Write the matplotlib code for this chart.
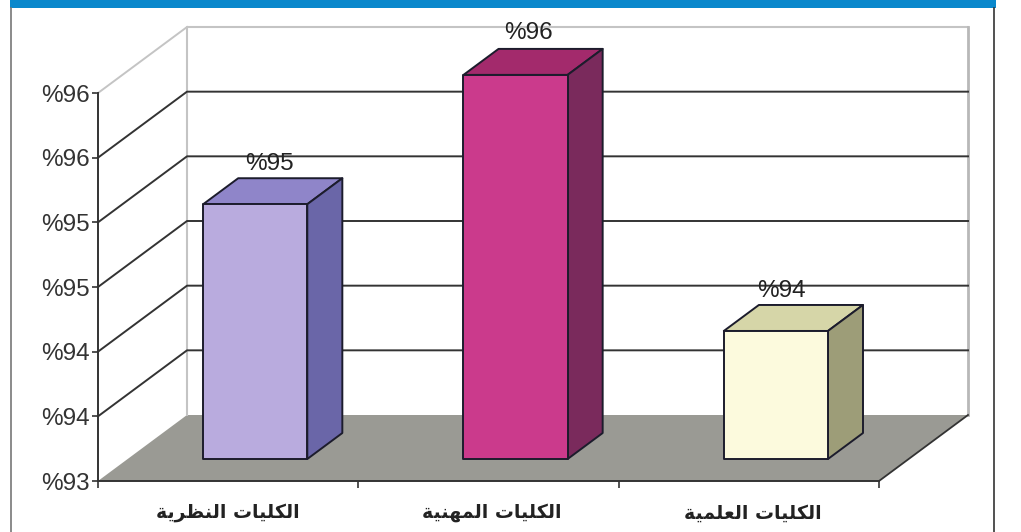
import matplotlib
matplotlib.use('Agg')
import matplotlib.pyplot as plt
from matplotlib.patches import Polygon, Rectangle

categories = ['الكليات النظرية', 'الكليات المهنية', 'الكليات العلمية']
values = [94.97, 95.97, 93.99]
bar_labels = ['%95', '%96', '%94']
y_ticks = [93, 93.5, 94, 94.5, 95, 95.5, 96]
y_tick_labels = ['%93', '%94', '%94', '%95', '%95', '%96', '%96']

front_colors = ['#b9abde', '#cb3a8c', '#fcfadd']
side_colors = ['#6a66a8', '#7a2a5c', '#9d9d78']
top_colors = ['#8f85c9', '#a32a6c', '#d6d6a8']

W, H = 1021, 532
# depth of the fake 3d box, in data units
DX = 89 / 260.33
DV = 66 / 129.33
EDGE = '#1c1c2c'

# contextual forms: isolated, final, initial, medial
FORMS = {
    'ا': '\ufe8d\ufe8e', 'ر': '\ufead\ufeae', 'ة': '\ufe93\ufe94',
    'ل': '\ufedd\ufede\ufedf\ufee0', 'ك': '\ufed9\ufeda\ufedb\ufedc',
    'ي': '\ufef1\ufef2\ufef3\ufef4', 'ت': '\ufe95\ufe96\ufe97\ufe98',
    'ن': '\ufee5\ufee6\ufee7\ufee8', 'ظ': '\ufec5\ufec6\ufec7\ufec8',
    'م': '\ufee1\ufee2\ufee3\ufee4', 'ه': '\ufee9\ufeea\ufeeb\ufeec',
    'ع': '\ufec9\ufeca\ufecb\ufecc',
}


def shape(s):
    # matplotlib does no arabic shaping, so pick the forms and reverse
    out = []
    for i, c in enumerate(s):
        if c not in FORMS:
            out.append(c)
            continue
        prev = s[i - 1] if i > 0 else ' '
        nxt = s[i + 1] if i < len(s) - 1 else ' '
        join_prev = prev in FORMS and len(FORMS[prev]) == 4
        join_next = nxt in FORMS and len(FORMS[c]) == 4
        idx = {(False, False): 0, (True, False): 1, (False, True): 2, (True, True): 3}[(join_prev, join_next)]
        out.append(FORMS[c][idx])
    return ''.join(reversed(out))


def proj(x, v, d):
    return (x + d * DX, v + d * DV)


def poly(ax, pts, **kw):
    kw.setdefault('clip_on', False)
    ax.add_patch(Polygon(pts, closed=True, **kw))


fig = plt.figure(figsize=(W / 100, H / 100), dpi=100, facecolor='white')
plt.rcParams['font.family'] = ['Liberation Sans', 'DejaVu Sans']

# page frame
fig.add_artist(Rectangle((10 / W, 1 - 8 / H), 986 / W, 8 / H, transform=fig.transFigure, fc='#0a88cc', ec='none'))
fig.add_artist(plt.Line2D([10.5 / W, 10.5 / W], [0, 1 - 8 / H], color='#777777', lw=1.2))
fig.add_artist(plt.Line2D([993.5 / W, 993.5 / W], [0, 1 - 8 / H], color='#333333', lw=1.2))

ax = fig.add_axes([98 / W, (H - 481) / H, 781 / W, 388 / H])
ax.set_xlim(0, 3)
ax.set_ylim(93, 96)
ax.patch.set_alpha(0)

# floor and walls
poly(ax, [proj(0, 93, 0), proj(0, 93, 1), proj(3, 93, 1), proj(3, 93, 0)], fc='#9a9a94', ec='none', zorder=1)
xw, yw = proj(0, 93, 1)
xe, ye = proj(3, 96, 1)
ax.plot([xw, xw, xe], [yw, ye, ye], color='#c4c4c4', lw=1.5, clip_on=False, zorder=1.5)
ax.plot([xe, xe], [ye, yw], color='#b8b8b8', lw=2, clip_on=False, zorder=1.5)
ax.plot([3, proj(3, 93, 1)[0]], [93, proj(3, 93, 1)[1]], color='#333333', lw=1.3, clip_on=False, zorder=1.5)

# grid lines on the side and back walls
for v in y_ticks:
    c = '#c4c4c4' if v == 96 else '#333333'
    pts = [proj(0, v, 0), proj(0, v, 1), proj(3, v, 1)]
    if v == 93:
        continue
    if v == 96:
        pts = pts[:2]
    ax.plot([p[0] for p in pts], [p[1] for p in pts], color=c, lw=1.4, clip_on=False, zorder=2)

# bars
d0, d1 = 1 / 3, 0.727
w = 0.4
# label shift from the back edge centre, in pixels
label_shift = [(-21, 0), (-22, 2), (-29, 0)]
for i, v in enumerate(values):
    x0 = i + 0.29
    x1 = x0 + w
    style = dict(ec=EDGE, lw=1.4, joinstyle='round', zorder=3)
    poly(ax, [proj(x0, v, d0), proj(x1, v, d0), proj(x1, v, d1), proj(x0, v, d1)], fc=top_colors[i], **style)
    poly(ax, [proj(x1, 93, d0), proj(x1, 93, d1), proj(x1, v, d1), proj(x1, v, d0)], fc=side_colors[i], **style)
    poly(ax, [proj(x0, 93, d0), proj(x1, 93, d0), proj(x1, v, d0), proj(x0, v, d0)], fc=front_colors[i], **style)
    lx, ly = proj(x0 + w / 2, v, d1)
    ax.annotate(bar_labels[i], (lx, ly), xytext=(label_shift[i][0] * 0.72, 2 + label_shift[i][1] * 0.72),
                textcoords='offset points', ha='center', va='bottom',
                fontsize=17.5, color='#222222', zorder=5, annotation_clip=False)

for s in ['top', 'right']:
    ax.spines[s].set_visible(False)
for s in ['left', 'bottom']:
    ax.spines[s].set_color('#333333')
    ax.spines[s].set_linewidth(1.4)
    ax.spines[s].set_zorder(4)

ax.set_yticks(y_ticks)
ax.set_yticklabels(y_tick_labels, fontsize=17.5, color='#333333')
ax.tick_params(axis='y', length=4, width=1.2, color='#333333', pad=2)
ax.set_xticks([0, 1, 2, 3])
ax.set_xticklabels([])
ax.tick_params(axis='x', which='major', length=5, width=1.2, color='#333333')
ax.set_xticks([0.5, 1.513, 2.516], minor=True)
ax.set_xticklabels([shape(c) for c in categories], minor=True, fontsize=13.6, fontweight='bold',
                   family=['DejaVu Sans'], color='#222222')
ax.tick_params(axis='x', which='minor', length=0, pad=16)

fig.savefig('out.png', dpi=100, facecolor='white')
